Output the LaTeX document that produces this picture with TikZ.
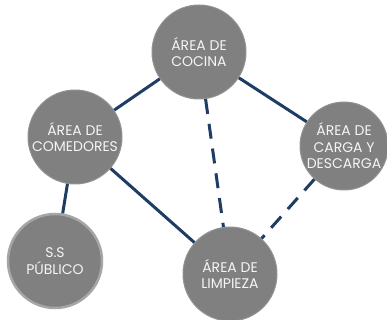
\documentclass[tikz,border=0pt]{standalone}
\usepackage{fontspec}
\setmainfont{Poppins}
\definecolor{navy}{HTML}{1F3C64}
\definecolor{nodegray}{HTML}{808080}
\definecolor{ringgray}{HTML}{A6A6A6}
\begin{document}
\begin{tikzpicture}[x=1pt,y=1pt,
  area/.style={circle,fill=nodegray,draw=nodegray!85!white,line width=1pt,minimum size=94pt,inner sep=0pt,
    text=white!92!gray,font=\fontsize{14}{16.5}\selectfont,align=center},
  link/.style={navy,line width=3pt},
  dlink/.style={link,dash pattern=on 15pt off 10pt}]
\useasboundingbox (0,0) rectangle (387,320);
\node[area] (cocina) at (199,268) {ÁREA DE\\COCINA};
\node[area] (comedores) at (75,183) {ÁREA DE\\COMEDORES};
\node[area,minimum size=88pt] (carga) at (344,174) {ÁREA DE\\CARGA Y\\DESCARGA};
\node[area,draw=ringgray,line width=2.5pt] (ss) at (55,59) {S.S\\PÚBLICO};
\node[area] (limpieza) at (230,46) {ÁREA DE\\LIMPIEZA};
\draw[link] (cocina) -- (comedores);
\draw[link] (cocina) -- (carga);
\draw[dlink] (cocina) -- (limpieza);
\draw[link] (comedores) -- (limpieza);
\draw[link] (comedores) -- (ss);
\draw[dlink] (carga) -- (limpieza);
\end{tikzpicture}
\end{document}
